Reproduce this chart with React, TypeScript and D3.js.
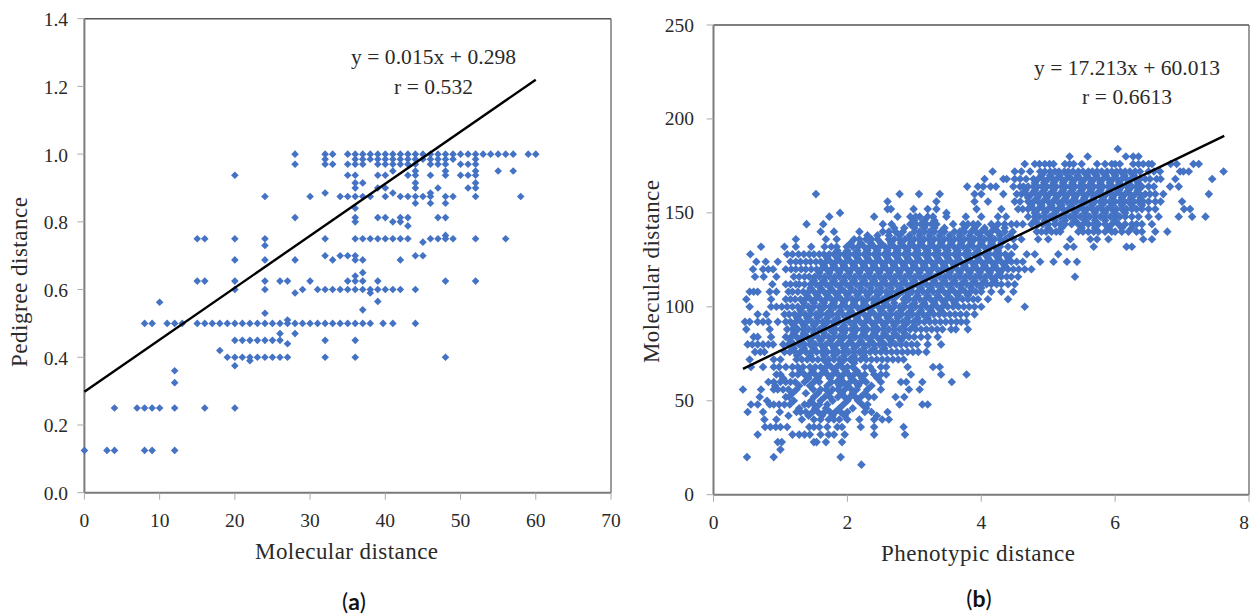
import React from "react";
import * as d3 from "d3";

const xTicksA = [0, 10, 20, 30, 40, 50, 60, 70];
const yTicksA = [0, 0.2, 0.4, 0.6, 0.8, 1.0, 1.2, 1.4];
const xTicksB = [0, 2, 4, 6, 8];
const yTicksB = [0, 50, 100, 150, 200, 250];
const fitLineAx = [0, 60];
const fitLineAy = [0.298, 1.22];
const fitLineBx = [0.44, 7.63];
const fitLineBy = [67, 191];

const pedigreeLevels = [1.0, 0.985, 0.97, 0.95, 0.9375, 0.915, 0.9, 0.885, 0.875, 0.855, 0.84, 0.8125, 0.8, 0.788, 0.76, 0.75, 0.74, 0.73, 0.7, 0.6875, 0.65, 0.64, 0.625, 0.6, 0.59, 0.565, 0.5625, 0.54, 0.53, 0.51, 0.5, 0.47, 0.45, 0.44, 0.42, 0.4, 0.39, 0.375, 0.36, 0.325, 0.25, 0.125];
const molecularByLevel = [
  [28, 32, 33, 35, 36, 37, 38, 39, 40, 41, 42, 43, 44, 45, 46, 47, 48, 49, 50, 51, 52, 53, 54, 55, 56, 57, 59, 60],
  [32, 36, 37, 38, 39, 40, 41, 42, 43, 44, 45, 46, 47, 48, 49, 52],
  [28, 32, 33, 35, 36, 37, 39, 40, 41, 42, 43, 44, 46, 47, 48, 50, 51, 52],
  [41, 44, 48, 52, 57, 55],
  [20, 35, 36, 39, 40, 43, 44, 46, 48, 50, 51, 52],
  [37, 36, 44, 52],
  [36, 39, 40, 44, 47, 51, 52],
  [32, 41, 46],
  [24, 30, 34, 35, 36, 37, 38, 40, 42, 43, 44, 45, 46, 48, 49, 52, 58],
  [44, 46, 48],
  [36],
  [28, 36, 39, 40, 42, 43, 47, 48],
  [36, 41, 42],
  [43],
  [48],
  [15, 16, 20, 24, 32, 36, 37, 38, 39, 40, 41, 42, 43, 46, 47, 48, 49, 52, 56],
  [45],
  [24],
  [32, 34, 35, 36, 44, 45],
  [20, 24, 28, 33, 36, 37, 42],
  [37],
  [36],
  [15, 16, 20, 24, 26, 27, 30, 35, 36, 37, 39, 48, 52],
  [20, 24, 29, 31, 32, 33, 34, 35, 36, 37, 38, 39, 40, 41, 42, 44],
  [28, 38],
  [39],
  [10],
  [37],
  [24],
  [27],
  [8, 9, 11, 12, 13, 15, 16, 17, 18, 19, 20, 21, 22, 23, 24, 25, 26, 27, 28, 29, 30, 31, 32, 33, 34, 35, 36, 37, 38, 39.7, 41, 44],
  [26, 28],
  [20, 21, 22, 23, 24, 25, 26, 32, 36],
  [27],
  [18],
  [19, 20, 21, 22, 23, 24, 25, 26, 27, 32, 36, 48],
  [22],
  [20],
  [12],
  [12],
  [4, 7, 8, 9, 10, 12, 16, 20],
  [0, 3, 4, 8, 9, 12],
];

const molecularLevels = [184, 180, 176, 172, 170, 168, 166, 164, 162, 160, 158, 156, 154, 152, 150, 148, 146, 144, 142, 140, 138, 136, 134, 132, 130, 128, 126, 124, 122, 120, 118, 116, 114, 112, 110, 108, 106, 104, 102, 100, 98, 96, 94, 92, 90, 88, 86, 84, 82, 80, 78, 76, 74, 72, 70, 68, 66, 64, 62, 60, 58, 56, 54, 52, 50, 48, 46, 44, 42, 40, 36, 32, 28, 24, 20, 16];
// Phenotypic distance x 100, one list for each molecular distance level
const phenotypicByLevel = [
  [604],
  [532, 559, 616, 627, 635],
  [465, 480, 487, 495, 502, 508, 525, 532, 538, 550, 573, 585, 595, 600, 607, 627, 635, 642, 650, 655, 683, 692, 717, 725],
  [417, 450, 460, 473, 488, 495, 503, 510, 516, 524, 530, 537, 545, 552, 560, 566, 573, 580, 588, 595, 602, 608, 615, 622, 630, 637, 650, 658, 667, 697, 702, 710, 762],
  [490, 503, 517, 530, 544, 558, 572, 586, 600, 614, 628],
  [405, 433, 438, 450, 458, 467, 478, 485, 492, 500, 507, 513, 520, 527, 535, 541, 548, 555, 562, 569, 575, 582, 590, 597, 603, 610, 617, 624, 630, 637, 645, 652, 662, 668, 690, 745],
  [480, 494, 508, 522, 536, 550, 564, 578, 592, 606, 620, 634],
  [379, 395, 403, 414, 422, 448, 458, 463, 470, 478, 484, 491, 498, 505, 512, 520, 526, 533, 540, 547, 554, 560, 568, 575, 582, 590, 596, 603, 610, 618, 625, 632, 640, 650, 658, 682, 695],
  [466, 480, 494, 508, 522, 536, 550, 564, 578, 592, 606, 620, 634],
  [153, 278, 307, 338, 390, 400, 433, 453, 460, 467, 475, 482, 488, 495, 502, 510, 517, 524, 530, 537, 544, 552, 559, 566, 572, 580, 587, 594, 600, 608, 615, 622, 630, 637, 645, 652, 660, 672, 740],
  [470, 484, 498, 512, 526, 540, 554, 568, 582, 596, 610, 624, 638],
  [260, 333, 390, 410, 450, 458, 470, 478, 485, 492, 500, 507, 514, 521, 528, 535, 542, 550, 557, 564, 570, 578, 585, 592, 600, 607, 614, 620, 628, 635, 642, 650, 660, 668, 700],
  [475, 490, 505, 520, 535, 550, 565, 580, 595, 610, 625, 640],
  [260, 265, 299, 320, 333, 393, 430, 455, 462, 470, 478, 485, 493, 500, 508, 515, 522, 530, 537, 545, 552, 558, 566, 573, 580, 588, 595, 602, 610, 617, 625, 632, 640, 650, 660, 703, 712],
  [189, 348, 480, 495, 510, 525, 540, 555, 570, 585, 600, 615],
  [173, 240, 275, 294, 302, 308, 320, 328, 348, 377, 400, 425, 437, 470, 480, 487, 495, 503, 510, 518, 525, 533, 540, 548, 555, 562, 570, 578, 585, 593, 600, 607, 615, 625, 635, 650, 665, 695, 715, 735],
  [300, 315, 330, 480, 495, 510, 525, 540, 555, 570, 585, 600],
  [139, 164, 253, 266, 294, 302, 310, 318, 326, 333, 358, 373, 380, 388, 395, 415, 425, 435, 445, 453, 462, 475, 485, 492, 500, 510, 518, 525, 535, 545, 552, 560, 568, 575, 585, 595, 605, 615, 625, 632, 640, 655],
  [270, 285, 300, 315, 330, 345, 375, 390, 405, 420, 435, 500, 520, 550, 570, 590, 610, 625],
  [160, 180, 218, 253, 262, 272, 283, 300, 308, 315, 323, 330, 340, 345, 360, 368, 375, 385, 392, 400, 407, 415, 425, 435, 447, 483, 490, 497, 505, 512, 518, 545, 552, 560, 568, 575, 585, 595, 600, 610, 620, 632, 640, 660, 678],
  [230, 245, 262, 278, 293, 308, 323, 338, 353, 368, 383, 398, 413, 428, 443],
  [123, 168, 184, 210, 218, 228, 236, 245, 262, 270, 278, 286, 293, 300, 307, 315, 322, 330, 337, 345, 352, 360, 367, 375, 382, 390, 397, 405, 412, 420, 428, 436, 448, 460, 485, 500, 533, 563, 573, 590, 642, 655],
  [205, 220, 235, 250, 265, 280, 295, 310, 325, 340, 355, 370, 385, 400, 415, 430],
  [71, 106, 123, 146, 166, 176, 184, 199, 208, 216, 225, 233, 240, 248, 256, 263, 270, 278, 285, 292, 300, 306, 314, 322, 329, 336, 344, 351, 359, 366, 373, 380, 388, 396, 404, 412, 420, 428, 440, 450, 528, 538, 568, 617, 625],
  [185, 200, 215, 230, 245, 260, 275, 290, 305, 320, 335, 350, 365, 380, 395, 410, 425],
  [55, 110, 118, 127, 135, 143, 150, 158, 165, 173, 180, 188, 195, 203, 210, 217, 225, 232, 240, 247, 255, 262, 270, 277, 285, 292, 300, 307, 315, 322, 330, 337, 345, 352, 360, 367, 375, 382, 390, 397, 405, 412, 420, 428, 436, 445, 468, 480, 515],
  [170, 185, 200, 215, 230, 245, 260, 275, 290, 305, 320, 335, 350, 365, 380, 395, 410, 425, 440],
  [64, 78, 96, 115, 123, 130, 138, 145, 153, 160, 168, 175, 183, 190, 198, 205, 213, 220, 228, 235, 243, 250, 258, 265, 273, 280, 288, 295, 303, 310, 318, 325, 333, 340, 348, 355, 363, 370, 378, 385, 393, 400, 408, 415, 423, 430, 438, 445, 453, 462, 488, 508, 528, 543],
  [165, 180, 195, 210, 225, 240, 255, 270, 285, 300, 315, 330, 345, 360, 375, 390, 405, 420, 435],
  [59, 74, 82, 89, 108, 116, 123, 131, 138, 146, 154, 161, 169, 176, 184, 191, 199, 206, 214, 221, 229, 236, 244, 251, 259, 266, 274, 281, 289, 296, 304, 311, 319, 326, 334, 341, 349, 356, 364, 371, 379, 386, 394, 401, 409, 416, 424, 432, 440, 448, 456, 465, 475],
  [158, 173, 188, 203, 218, 233, 248, 263, 278, 293, 308, 323, 338, 353, 368, 383, 398, 413, 428],
  [62, 75, 94, 120, 128, 136, 143, 151, 158, 166, 173, 181, 188, 196, 203, 211, 218, 226, 233, 241, 248, 256, 263, 271, 278, 286, 293, 301, 308, 316, 323, 331, 338, 346, 353, 361, 368, 376, 383, 391, 398, 406, 414, 422, 430, 438, 445, 455, 540],
  [150, 165, 180, 195, 210, 225, 240, 255, 270, 285, 300, 315, 330, 345, 360, 375, 390, 405, 420],
  [88, 108, 115, 123, 128, 136, 145, 153, 160, 168, 175, 183, 190, 198, 205, 213, 220, 228, 235, 243, 250, 258, 265, 273, 280, 288, 295, 303, 310, 318, 326, 333, 340, 348, 355, 363, 370, 378, 385, 393, 400, 408, 415, 423, 430, 440, 450],
  [145, 160, 175, 190, 205, 220, 235, 250, 265, 280, 295, 310, 325, 340, 355, 370, 385, 400],
  [54, 60, 66, 84, 94, 112, 118, 126, 134, 142, 150, 158, 165, 173, 180, 188, 196, 204, 212, 219, 227, 235, 243, 250, 258, 266, 274, 282, 289, 297, 305, 313, 320, 328, 336, 344, 352, 360, 368, 376, 384, 392, 400, 415, 430, 448],
  [140, 155, 170, 185, 200, 215, 230, 245, 260, 275, 290, 305, 320, 335, 350, 365, 380],
  [49, 86, 108, 115, 122, 130, 137, 145, 152, 160, 168, 176, 183, 191, 199, 207, 214, 222, 230, 238, 245, 253, 261, 269, 284, 292, 300, 308, 316, 324, 332, 340, 348, 356, 364, 372, 380, 388, 395, 410, 440],
  [135, 150, 165, 180, 195, 210, 225, 240, 255, 270, 285, 300, 315, 330, 345, 360],
  [54, 86, 94, 102, 110, 118, 126, 134, 142, 150, 158, 166, 174, 182, 190, 198, 206, 214, 222, 230, 238, 246, 254, 262, 270, 278, 286, 294, 302, 310, 318, 326, 334, 342, 350, 358, 366, 374, 382, 390, 400, 465],
  [130, 145, 160, 175, 190, 205, 220, 235, 250, 265, 280, 295, 310, 325, 340],
  [66, 79, 106, 113, 121, 129, 137, 145, 153, 161, 169, 177, 185, 193, 201, 209, 217, 225, 233, 241, 249, 257, 265, 273, 281, 289, 297, 305, 313, 321, 329, 337, 345, 353, 361, 369, 378, 390],
  [125, 140, 155, 170, 185, 200, 215, 230, 245, 260, 275, 290, 305, 320],
  [47, 54, 66, 74, 82, 96, 108, 115, 123, 131, 139, 147, 155, 163, 171, 179, 187, 195, 203, 211, 219, 227, 235, 243, 251, 259, 267, 275, 283, 291, 299, 307, 315, 323, 331, 339, 347, 355, 363, 370, 378],
  [120, 135, 150, 165, 180, 195, 210, 225, 240, 255, 270, 285, 300],
  [49, 84, 110, 118, 126, 134, 142, 150, 158, 166, 174, 182, 190, 198, 206, 214, 222, 230, 238, 246, 254, 262, 270, 278, 286, 294, 302, 310, 318, 326, 334, 342, 355, 362, 380],
  [120, 135, 150, 165, 180, 195, 210, 225, 240, 255, 270, 285],
  [60, 66, 86, 108, 116, 124, 132, 140, 148, 156, 164, 172, 180, 188, 196, 204, 212, 220, 228, 236, 244, 252, 260, 268, 276, 284, 292, 300, 310, 320, 335],
  [115, 130, 145, 160, 175, 190, 205, 220, 235, 250, 265, 280],
  [51, 58, 66, 74, 82, 89, 104, 112, 120, 128, 136, 144, 152, 160, 168, 176, 184, 192, 200, 208, 216, 224, 232, 240, 248, 256, 264, 272, 280, 288, 296, 304, 320, 340],
  [120, 135, 150, 165, 180, 195, 210, 225, 240, 255],
  [62, 70, 76, 106, 114, 122, 130, 138, 146, 154, 162, 170, 178, 186, 194, 202, 210, 218, 226, 234, 242, 250, 258, 266, 274, 282, 290, 298, 306, 318],
  [125, 145, 165, 180, 195, 210, 225],
  [54, 90, 100, 124, 132, 140, 148, 156, 164, 172, 180, 188, 196, 204, 212, 220, 228, 236, 244, 252, 260, 268, 276, 284],
  [170, 190, 210],
  [56, 74, 90, 98, 108, 118, 126, 134, 144, 152, 160, 168, 176, 184, 192, 200, 208, 226, 234, 250, 258, 290, 328, 338],
  [130, 148, 166, 182, 198, 214, 238],
  [94, 100, 118, 126, 136, 144, 152, 160, 170, 178, 186, 194, 202, 210, 218, 226, 240, 250, 258, 295, 340, 378],
  [104, 142, 156, 174, 190, 206, 222, 245],
  [82, 90, 100, 108, 115, 122, 136, 150, 158, 176, 184, 194, 204, 212, 220, 228, 250, 280, 288, 312, 356],
  [92, 128, 144, 170, 188, 200, 216, 236],
  [44, 71, 90, 96, 104, 112, 124, 149, 160, 168, 178, 186, 196, 206, 214, 230, 250, 292, 308],
  [118, 138, 156, 173, 192, 208, 226],
  [69, 108, 113, 150, 166, 174, 186, 196, 204, 212, 220, 232, 240, 272, 285],
  [80, 120, 146, 160, 178, 200, 216],
  [56, 66, 84, 90, 98, 106, 114, 136, 142, 150, 158, 170, 194, 222, 230, 278, 312, 320],
  [128, 152, 168, 188, 208, 228],
  [51, 74, 99, 124, 130, 138, 148, 156, 166, 174, 182, 190, 200, 226, 236, 260],
  [112, 142, 162, 178, 196, 244],
  [76, 94, 132, 150, 160, 172, 180, 188, 200, 218, 240, 252, 262],
  [77, 85, 93, 100, 110, 143, 150, 158, 170, 185, 192, 220, 240, 284],
  [66, 118, 128, 136, 144, 160, 172, 180, 196, 240, 286],
  [96, 102, 150, 154, 168, 192],
  [100],
  [50, 90, 190],
  [221],
];

const blue = "#4472C4";
const serif = "'Liberation Serif', serif";
const textInk = "#2a2a2a";

const xA = d3.scaleLinear().domain([0, 70]).range([84.4, 611]);
const yA = d3.scaleLinear().domain([0, 1.4]).range([492.7, 18.7]);
const xB = d3.scaleLinear().domain([0, 8]).range([713.5, 1249]);
const yB = d3.scaleLinear().domain([0, 250]).range([494.7, 25]);

const markerA = d3.symbol().type(d3.symbolSquare).size(29)() as string;
const markerB = d3.symbol().type(d3.symbolSquare).size(37)() as string;
const lineGen = d3.line();

function Frame({ x0, x1, y0, y1 }: { x0: number; x1: number; y0: number; y1: number }) {
  return (
    <g fill="none">
      <line x1={x0} x2={x1} y1={y1} y2={y1} stroke="#555" strokeWidth={1.6} />
      <line x1={x1} x2={x1} y1={y1} y2={y0} stroke="#666" strokeWidth={1.3} />
      <line x1={x0} x2={x0} y1={y1} y2={y0} stroke="#7a7a7a" strokeWidth={2} />
      <line x1={x0} x2={x1} y1={y0} y2={y0} stroke="#7a7a7a" strokeWidth={2} />
    </g>
  );
}

export default function App() {
  const pointsA = pedigreeLevels.flatMap((y, i) => molecularByLevel[i].map((x) => [x, y]));
  const pointsB = molecularLevels.flatMap((y, i) => phenotypicByLevel[i].map((x) => [x / 100, y]));
  const lineA = lineGen(fitLineAx.map((x, i) => [xA(x), yA(fitLineAy[i])] as [number, number])) as string;
  const lineB = lineGen(fitLineBx.map((x, i) => [xB(x), yB(fitLineBy[i])] as [number, number])) as string;
  return (
    <svg width={1250} height={615} style={{ position: "absolute", left: 0, top: 0, display: "block" }} fontFamily={serif} fill={textInk}>
      <Frame x0={xA(0)} x1={xA(70)} y0={yA(0)} y1={yA(1.4)} />
      {xTicksA.map((t) => (
        <g key={t}>
          <line x1={xA(t)} x2={xA(t)} y1={yA(0)} y2={yA(0) + 7} stroke="#aaa" />
          <text x={xA(t)} y={527} fontSize={19.5} textAnchor="middle">{t}</text>
        </g>
      ))}
      {yTicksA.map((t) => (
        <g key={t}>
          <line x1={xA(0) - 7} x2={xA(0)} y1={yA(t)} y2={yA(t)} stroke="#aaa" />
          <text x={68} y={yA(t) + 7.5} fontSize={19.5} textAnchor="end">{t.toFixed(1)}</text>
        </g>
      ))}
      {pointsA.map((p, i) => (
        <path key={i} d={markerA} transform={`translate(${xA(p[0])},${yA(p[1])}) rotate(45)`} fill={blue} />
      ))}
      <path d={lineA} fill="none" stroke="#000" strokeWidth={2.4} />
      <text x={351} y={64} fontSize={21.5} textLength={165}>y = 0.015x + 0.298</text>
      <text x={394} y={94} fontSize={21.5} textLength={79}>r = 0.532</text>
      <text x={255} y={559} fontSize={23} textLength={183}>Molecular distance</text>
      <text transform="translate(27,367) rotate(-90)" fontSize={23} textLength={170}>Pedigree distance</text>
      <text x={354} y={610} fontSize={23} textAnchor="middle" fontFamily="Lato" fill="#111">(<tspan fontWeight={700}>a</tspan>)</text>

      <Frame x0={xB(0)} x1={xB(8)} y0={yB(0)} y1={yB(250)} />
      {xTicksB.map((t) => (
        <g key={t}>
          <line x1={xB(t)} x2={xB(t)} y1={yB(0)} y2={yB(0) + 7} stroke="#aaa" />
          <text x={t === 8 ? xB(t) - 5 : xB(t)} y={529} fontSize={19.5} textAnchor="middle">{t}</text>
        </g>
      ))}
      {yTicksB.map((t) => (
        <g key={t}>
          <line x1={xB(0) - 7} x2={xB(0)} y1={yB(t)} y2={yB(t)} stroke="#aaa" />
          <text x={694} y={yB(t) + 6.5} fontSize={19.5} textAnchor="end">{t}</text>
        </g>
      ))}
      {pointsB.map((p, i) => (
        <path key={i} d={markerB} transform={`translate(${xB(p[0])},${yB(p[1])}) rotate(45)`} fill={blue} />
      ))}
      <path d={lineB} fill="none" stroke="#000" strokeWidth={2.4} />
      <text x={1034} y={75} fontSize={21.5} textLength={186}>y = 17.213x + 60.013</text>
      <text x={1082} y={104} fontSize={21.5} textLength={90}>r = 0.6613</text>
      <text x={881} y={561} fontSize={23} textLength={194}>Phenotypic distance</text>
      <text transform="translate(659,363) rotate(-90)" fontSize={23} textLength={183}>Molecular distance</text>
      <text x={979} y={607} fontSize={23} textAnchor="middle" fontFamily="Lato" fill="#111">(<tspan fontWeight={700}>b</tspan>)</text>
    </svg>
  );
}
